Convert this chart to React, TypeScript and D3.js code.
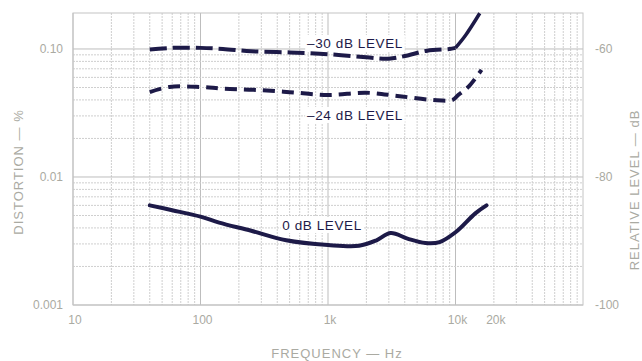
import React from "react";
import * as d3 from "d3";

const freq30 = [40, 60, 100, 150, 250, 500, 1000, 2000, 3000, 4000, 6000, 9000, 10000];
const val30 = [0.099, 0.102, 0.102, 0.1, 0.096, 0.094, 0.091, 0.086, 0.084, 0.088, 0.097, 0.1, 0.102];
const freq30Tail = [10000, 12000, 15500];
const val30Tail = [0.102, 0.128, 0.19];

const freq24 = [40, 57, 100, 150, 260, 500, 1000, 2000, 3500, 6500, 9500, 10500, 12600, 16000];
const val24 = [0.046, 0.0505, 0.0505, 0.049, 0.048, 0.046, 0.0437, 0.0455, 0.043, 0.04, 0.04, 0.0437, 0.0505, 0.0686];

const freq0 = [40, 60, 100, 140, 250, 470, 1000, 1750, 2400, 3100, 4200, 5800, 7500, 10000, 14300, 17500];
const val0 = [0.006, 0.0055, 0.0049, 0.0044, 0.0038, 0.0032, 0.00294, 0.0029, 0.0032, 0.00365, 0.0033, 0.00305, 0.0031, 0.0037, 0.0052, 0.006];

const xTicks = [10, 100, 1000, 10000, 20000];
const xTickLabels = ["10", "100", "1k", "10k", "20k"];
const yTicks = [0.1, 0.01, 0.001];
const yTickLabels = ["0.10", "0.01", "0.001"];
const dbTicks = [-60, -80, -100];
const dbTickLabels = ["-60", "-80", "-100"];

const W = 642, H = 361;
const L = 73, R = 583, T = 13, B = 305;

export default function App() {
  const x = d3.scaleLog().domain([10, 100000]).range([L, R]);
  const y = d3.scaleLog().domain([0.001, 0.191]).range([B, T]);
  const dbToPct = (db: number) => Math.pow(10, (db + 40) / 20);

  const line = d3
    .line<[number, number]>()
    .x((d) => x(d[0]))
    .y((d) => y(d[1]))
    .curve(d3.curveCatmullRom.alpha(0.5));

  const zip = (a: number[], b: number[]) => a.map((f, i) => [f, b[i]] as [number, number]);

  const xGrid: number[] = [];
  for (let dec = 10; dec < 100000; dec *= 10)
    for (let k = 1; k < 10; k++) xGrid.push(dec * k);
  const yGrid: number[] = [];
  for (let dec = 0.001; dec < 0.1; dec *= 10)
    for (let k = 1; k < 10; k++) yGrid.push(dec * k);
  yGrid.push(0.1);

  const gridCol = "#cfcfcf";
  const txtCol = "#aaaaa2";
  const ink = "#1d1a48";
  const font = "Liberation Sans, Arial, sans-serif";

  const isMajor = (v: number) => Math.abs(Math.log10(v) - Math.round(Math.log10(v))) < 1e-6;

  const labels = [
    { text: "\u201330 dB LEVEL", x: 355, y: 43 },
    { text: "\u201324 dB LEVEL", x: 355, y: 115 },
    { text: "0 dB LEVEL", x: 322, y: 225 },
  ];

  return (
    <svg width={W} height={H} style={{ position: "absolute", left: 0, top: 0, background: "#fff" }}>
      <rect x={0} y={0} width={W} height={H} fill="#fff" />
      {xGrid.map((v, i) => (
        <line
          key={"xg" + i}
          x1={x(v)}
          x2={x(v)}
          y1={T}
          y2={B}
          stroke={isMajor(v) ? "#bdbdbd" : gridCol}
          strokeWidth={1}
          strokeDasharray={isMajor(v) ? undefined : "2,1"}
        />
      ))}
      {yGrid.map((v, i) => (
        <line
          key={"yg" + i}
          x1={L}
          x2={R}
          y1={y(v)}
          y2={y(v)}
          stroke={isMajor(v) ? "#bdbdbd" : gridCol}
          strokeWidth={1}
          strokeDasharray={isMajor(v) ? undefined : "2,1"}
        />
      ))}
      <rect x={L} y={T} width={R - L} height={B - T} fill="none" stroke="#c4c4c4" strokeWidth={1} />

      {labels.map((l, i) => (
        <rect key={"lb" + i} x={l.x - (l.text.length * 8.3) / 2} y={l.y - 8} width={l.text.length * 8.3} height={16} fill="#fff" />
      ))}
      {labels.map((l, i) => (
        <text
          key={"lt" + i}
          x={l.x}
          y={l.y}
          dy="0.36em"
          textAnchor="middle"
          fontFamily={font}
          fontSize={13.5}
          letterSpacing={0.6}
          fill={ink}
        >
          {l.text}
        </text>
      ))}

      <path d={line(zip(freq30, val30)) || ""} fill="none" stroke={ink} strokeWidth={4} strokeDasharray="17,6" strokeLinecap="butt" />
      <path d={line(zip(freq30Tail, val30Tail)) || ""} fill="none" stroke={ink} strokeWidth={3.5} />
      <path d={line(zip(freq24, val24)) || ""} fill="none" stroke={ink} strokeWidth={4} strokeDasharray="12,7" />
      <path d={line(zip(freq0, val0)) || ""} fill="none" stroke={ink} strokeWidth={4} strokeLinecap="round" />

      {xTicks.map((v, i) => (
        <text key={"xt" + i} x={x(v) + 2} y={320} dy="0.36em" textAnchor="middle" fontFamily={font} fontSize={12} fill={txtCol}>
          {xTickLabels[i]}
        </text>
      ))}
      {yTicks.map((v, i) => (
        <text key={"yt" + i} x={63} y={y(v)} dy="0.36em" textAnchor="end" fontFamily={font} fontSize={12} fill={txtCol}>
          {yTickLabels[i]}
        </text>
      ))}
      {dbTicks.map((v, i) => (
        <text key={"dt" + i} x={595} y={y(dbToPct(v))} dy="0.36em" textAnchor="start" fontFamily={font} fontSize={12} fill={txtCol}>
          {dbTickLabels[i]}
        </text>
      ))}
      <text x={337} y={353} dy="0.36em" textAnchor="middle" fontFamily={font} fontSize={13} letterSpacing={1} fill={txtCol}>
        FREQUENCY — Hz
      </text>
      <text
        transform={`translate(18,172) rotate(-90)`}
        dy="0.36em"
        textAnchor="middle"
        fontFamily={font}
        fontSize={13}
        letterSpacing={1}
        fill={txtCol}
      >
        DISTORTION — %
      </text>
      <text
        transform={`translate(634,190) rotate(-90)`}
        dy="0.36em"
        textAnchor="middle"
        fontFamily={font}
        fontSize={13}
        letterSpacing={1}
        fill={txtCol}
      >
        RELATIVE LEVEL — dB
      </text>
    </svg>
  );
}
